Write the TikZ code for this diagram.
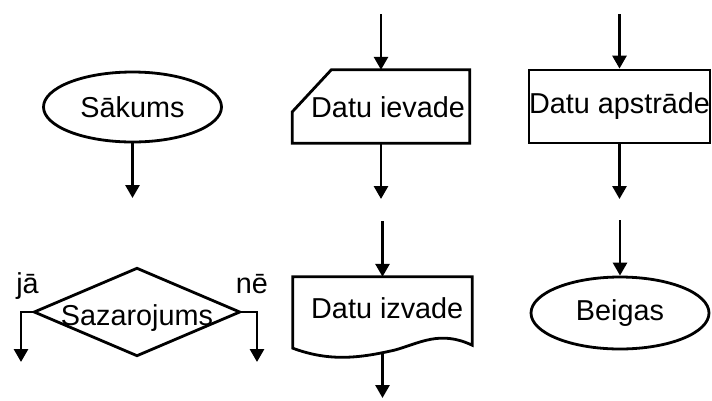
\documentclass[tikz,border=0pt]{standalone}
\usepackage{fontspec}
\setmainfont{Liberation Sans}
\usetikzlibrary{arrows.meta,shapes.geometric,calc}
\begin{document}
\begin{tikzpicture}[x=1pt,y=-1pt,
  every node/.style={font=\fontsize{28.8}{32}\selectfont, inner sep=0pt},
  outline/.style={draw=black, line width=2.8pt, line join=miter},
  flow/.style={draw=black, line width=2.8pt, -{Triangle[width=14pt,length=13pt]}}]
\useasboundingbox (0,0) rectangle (712,400);

% start terminal
\node[ellipse, outline, minimum width=178pt, minimum height=70pt] (start) at (132.5,107) {Sākums};
\coordinate (startEnd) at (132.5,198);
\draw[flow] (start.south) -- (startEnd);

% data input (cut corner)
\node[minimum width=177pt, minimum height=73pt] (input) at (381,106.5) {};
\draw[outline] ($(input.north west)+(39,0)$) -- (input.north east) -- (input.south east)
  -- (input.south west) -- ($(input.north west)+(0,42)$) -- cycle;
\node[anchor=base west] (inputText) at (311,117) {Datu ievade};
\coordinate (inTop) at (381,14);
\coordinate (inEnd) at (381,199);
\draw[flow] (inTop) -- (input.north);
\draw[flow] (input.south) -- (inEnd);

% processing
\node[rectangle, outline, minimum width=181pt, minimum height=73pt] (process) at (619.5,106.5) {Datu apstrāde};
\coordinate (procTop) at (619.5,14);
\coordinate (procEnd) at (619.5,199);
\draw[flow] (procTop) -- (process.north);
\draw[flow] (process.south) -- (procEnd);

% decision
\node[minimum width=205pt, minimum height=87pt] (decision) at (137,312) {};
\draw[outline] (decision.west) -- (decision.north) -- (decision.east) -- (decision.south) -- cycle;
\node[anchor=base] (decText) at (137,325) {Sazarojums};
\coordinate (yesEnd) at (21,362);
\coordinate (noEnd) at (257,362);
\draw[flow] (decision.west) -| (yesEnd);
\draw[flow] (decision.east) -| (noEnd);
\node[anchor=base] (yes) at (27.5,293) {jā};
\node[anchor=base] (no) at (252,293) {nē};

% data output (document shape)
\node[minimum width=179pt, minimum height=71pt] (output) at (382.5,312.5) {};
\draw[outline] (output.south west) -- (output.north west) -- (output.north east)
  -- ($(output.south east)+(0,-3)$)
  .. controls (440,330) and (420,343) .. (395,350)
  .. controls (360,358) and (330,362) .. (output.south west) -- cycle;
\node[anchor=base west] (outText) at (311,318) {Datu izvade};
\coordinate (outTop) at (382.5,221);
\coordinate (outWave) at (382.5,353);
\coordinate (outEnd) at (382.5,398);
\draw[flow] (outTop) -- (output.north);
\draw[flow] (outWave) -- (outEnd);

% end terminal
\node[ellipse, outline, minimum width=178pt, minimum height=72pt] (finish) at (620,313) {Beigas};
\coordinate (finTop) at (620,220);
\draw[flow] (finTop) -- (finish.north);
\end{tikzpicture}
\end{document}
